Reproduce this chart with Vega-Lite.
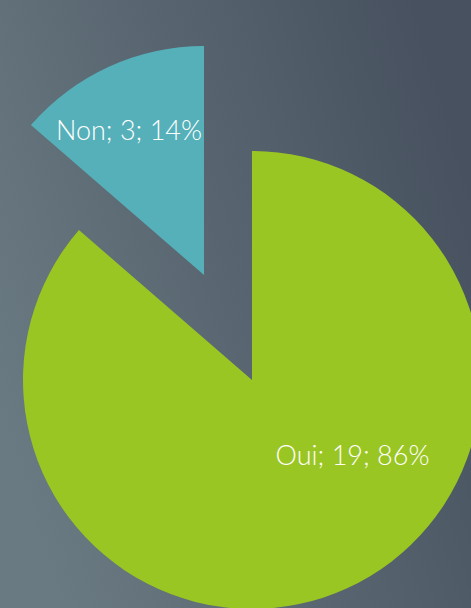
{
  "$schema": "https://vega.github.io/schema/vega-lite/v6.json",
  "width": 471,
  "height": 608,
  "autosize": {"type": "none"},
  "padding": 0,
  "background": "#56646f",
  "config": {"view": {"stroke": null}},
  "data": {
    "values": [
      {"reponse": "Oui", "n": 19, "label": "Oui; 19; 86%"},
      {"reponse": "Non", "n": 3, "label": "Non; 3; 14%"}
    ]
  },
  "transform": [
    {"stack": "n", "groupby": [], "as": ["t0", "t1"], "sort": [{"field": "reponse", "order": "descending"}]}
  ],
  "layer": [
    {
      "data": {"values": [{}]},
      "mark": {
        "type": "rect", "x": 0, "x2": "width", "y": 0, "y2": "height",
        "fill": {
          "gradient": "linear",
          "x1": 0, "y1": 0.7, "x2": 1, "y2": 0.3,
          "stops": [
            {"offset": 0, "color": "#6a7a82"},
            {"offset": 1, "color": "#47515f"}
          ]
        }
      },
      "encoding": {}
    },
    {
      "transform": [{"filter": "datum.reponse === 'Oui'"}],
      "mark": {"type": "arc", "outerRadius": 229, "xOffset": 16.5, "yOffset": 76},
      "encoding": {
        "theta": {"field": "t0", "type": "quantitative", "scale": {"domain": [0, 22]}},
        "theta2": {"field": "t1"},
        "color": {"field": "reponse", "type": "nominal", "scale": {"domain": ["Oui", "Non"], "range": ["#9ac623", "#56b0b9"]}, "legend": null}
      }
    },
    {
      "transform": [{"filter": "datum.reponse === 'Non'"}],
      "mark": {"type": "arc", "outerRadius": 229, "xOffset": -31.5, "yOffset": -29},
      "encoding": {
        "theta": {"field": "t0", "type": "quantitative", "scale": {"domain": [0, 22]}},
        "theta2": {"field": "t1"},
        "color": {"field": "reponse", "type": "nominal", "scale": {"domain": ["Oui", "Non"], "range": ["#9ac623", "#56b0b9"]}, "legend": null}
      }
    },
    {
      "transform": [{"filter": "datum.reponse === 'Oui'"}],
      "mark": {"type": "text", "font": "Lato", "fontWeight": 300, "fontSize": 27, "fill": "white", "align": "center", "baseline": "middle", "xOffset": 117, "yOffset": 153},
      "encoding": {"text": {"field": "label"}}
    },
    {
      "transform": [{"filter": "datum.reponse === 'Non'"}],
      "mark": {"type": "text", "font": "Lato", "fontWeight": 300, "fontSize": 27, "fill": "white", "align": "center", "baseline": "middle", "xOffset": -106.5, "yOffset": -172},
      "encoding": {"text": {"field": "label"}}
    }
  ]
}
